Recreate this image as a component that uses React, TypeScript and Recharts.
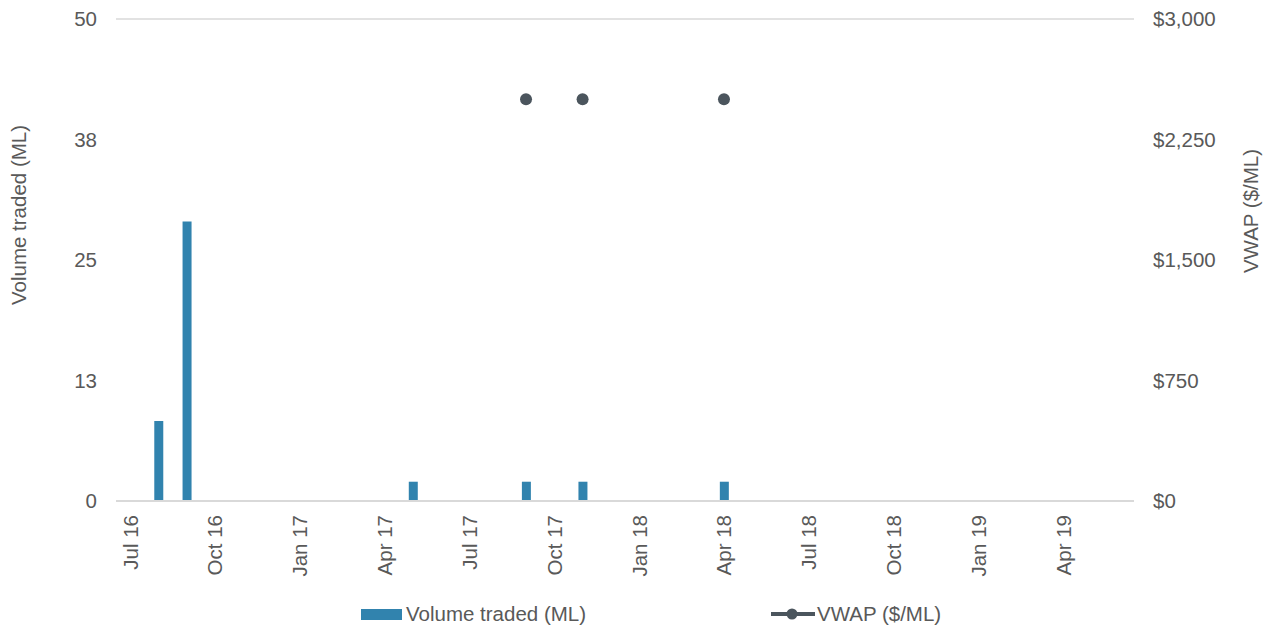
import React from 'react';
import { ComposedChart, Bar, Line, XAxis, YAxis, CartesianGrid, Legend, Label } from 'recharts';

const months = [
  'Jul 16', 'Aug 16', 'Sep 16', 'Oct 16', 'Nov 16', 'Dec 16',
  'Jan 17', 'Feb 17', 'Mar 17', 'Apr 17', 'May 17', 'Jun 17',
  'Jul 17', 'Aug 17', 'Sep 17', 'Oct 17', 'Nov 17', 'Dec 17',
  'Jan 18', 'Feb 18', 'Mar 18', 'Apr 18', 'May 18', 'Jun 18',
  'Jul 18', 'Aug 18', 'Sep 18', 'Oct 18', 'Nov 18', 'Dec 18',
  'Jan 19', 'Feb 19', 'Mar 19', 'Apr 19', 'May 19', 'Jun 19',
];

// volume traded (ML), null = no trades
const volume = [
  null, 8.3, 29, null, null, null,
  null, null, null, null, 2, null,
  null, null, 2, null, 2, null,
  null, null, null, 2, null, null,
  null, null, null, null, null, null,
  null, null, null, null, null, null,
];

// VWAP ($/ML)
const vwap = [
  null, null, null, null, null, null,
  null, null, null, null, null, null,
  null, null, 2500, null, 2500, null,
  null, null, null, 2500, null, null,
  null, null, null, null, null, null,
  null, null, null, null, null, null,
];

const leftTicks = [0, 12.5, 25, 37.5, 50];
const rightTicks = [0, 750, 1500, 2250, 3000];

const BAR_COLOR = '#3183AE';
const LINE_COLOR = '#4B555D';
const TEXT = '#595959';
const GRID = '#D9D9D9';
const FONT = '"Liberation Sans", Arial, sans-serif';
const FS = 20.5;

const data = months.map((m, i) => ({ month: m, volume: volume[i], vwap: vwap[i] }));

const XTick = (props: any) => {
  const { x, y, payload } = props;
  return (
    <text
      x={x}
      y={y}
      transform={`rotate(-90 ${x} ${y})`}
      textAnchor="end"
      dominantBaseline="central"
      fill={TEXT}
      fontSize={FS}
      fontFamily={FONT}
    >
      {payload.value}
    </text>
  );
};

// rotated axis title, placed from the axis viewBox
const AxisTitle = (props: any) => {
  const { viewBox, value, dx, cy } = props;
  const x = viewBox.x + dx;
  const y = cy;
  return (
    <text
      x={x}
      y={y}
      transform={`rotate(-90 ${x} ${y})`}
      textAnchor="middle"
      dominantBaseline="central"
      fill={TEXT}
      fontSize={FS}
      fontFamily={FONT}
    >
      {value}
    </text>
  );
};

const LegendContent = () => (
  <div style={{ position: 'relative', width: 1268, height: 40, fontFamily: FONT, fontSize: FS, color: TEXT }}>
    <div style={{ position: 'absolute', left: 361, top: 20, width: 41, height: 11, background: BAR_COLOR }} />
    <div style={{ position: 'absolute', left: 406, top: 14, lineHeight: '22px' }}>Volume traded (ML)</div>
    <svg style={{ position: 'absolute', left: 771, top: 15 }} width={44} height={20}>
      <line x1={0} y1={10} x2={44} y2={10} stroke={LINE_COLOR} strokeWidth={4} />
      <circle cx={21} cy={10} r={5.5} fill={LINE_COLOR} />
    </svg>
    <div style={{ position: 'absolute', left: 817, top: 14, lineHeight: '22px' }}>VWAP ($/ML)</div>
  </div>
);

export default function App() {
  return (
    <div style={{ width: 1268, height: 629, background: '#fff' }}>
      <style>{'body { margin: 0; }'}</style>
      <ComposedChart
        width={1268}
        height={629}
        data={data}
        margin={{ top: 19, right: 0, left: 0, bottom: 0 }}
        barSize={9}
      >
        <CartesianGrid vertical={false} stroke={GRID} strokeWidth={1.5} />
        <XAxis
          dataKey="month"
          interval={2}
          tick={<XTick />}
          tickLine={false}
          tickSize={0}
          tickMargin={14}
          axisLine={{ stroke: GRID, strokeWidth: 2 }}
          height={88}
        />
        <YAxis
          yAxisId="left"
          width={116}
          domain={[0, 50]}
          ticks={leftTicks}
          tickFormatter={(v: number) => String(Math.round(v))}
          axisLine={false}
          tickLine={false}
          tickSize={0}
          tickMargin={19}
          tick={{ fill: TEXT, fontSize: FS, fontFamily: FONT }}
        >
          <Label value="Volume traded (ML)" content={<AxisTitle dx={18} cy={215} />} />
        </YAxis>
        <YAxis
          yAxisId="right"
          orientation="right"
          width={134}
          domain={[0, 3000]}
          ticks={rightTicks}
          tickFormatter={(v: number) => `$${v.toLocaleString('en-US')}`}
          axisLine={false}
          tickLine={false}
          tickSize={0}
          tickMargin={19}
          tick={{ fill: TEXT, fontSize: FS, fontFamily: FONT }}
        >
          <Label value="VWAP ($/ML)" content={<AxisTitle dx={116} cy={211} />} />
        </YAxis>
        <Legend verticalAlign="bottom" height={40} content={<LegendContent />} wrapperStyle={{ left: 0, width: 1268 }} />
        <Bar yAxisId="left" dataKey="volume" name="Volume traded (ML)" fill={BAR_COLOR} isAnimationActive={false} />
        <Line
          yAxisId="right"
          dataKey="vwap"
          name="VWAP ($/ML)"
          stroke={LINE_COLOR}
          strokeWidth={3}
          dot={{ r: 6, fill: LINE_COLOR, stroke: LINE_COLOR, strokeWidth: 0 }}
          activeDot={false}
          connectNulls={false}
          isAnimationActive={false}
        />
      </ComposedChart>
    </div>
  );
}
